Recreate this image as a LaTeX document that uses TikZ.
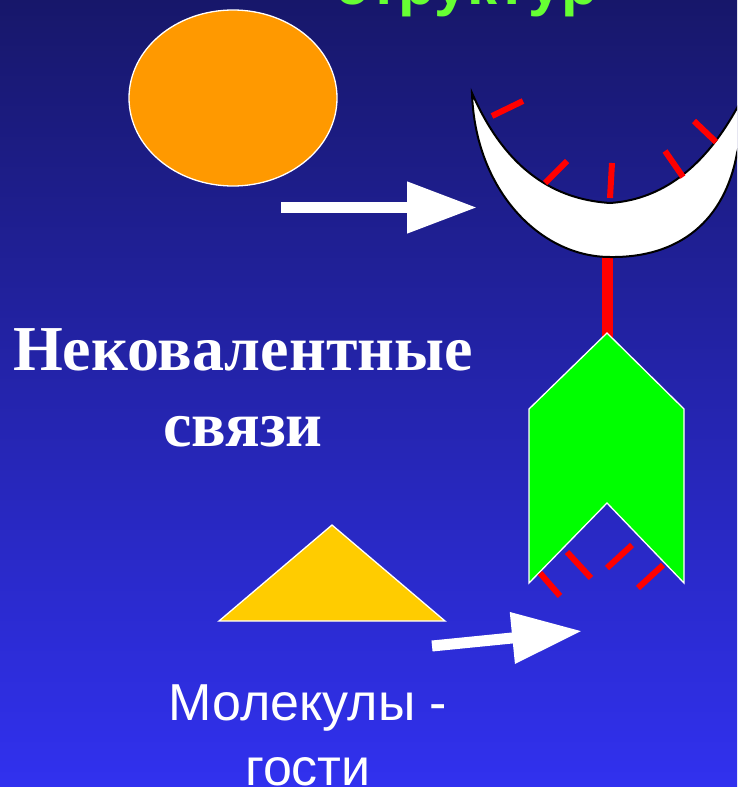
\documentclass[tikz,border=0pt]{standalone}
\usepackage{fontspec}
\setmainfont{Liberation Serif}
\setsansfont{Liberation Sans}
\usetikzlibrary{arrows.meta}

\definecolor{bgtop}{HTML}{17176A}
\definecolor{bgbot}{HTML}{3131EF}
\definecolor{hostgreen}{HTML}{00FF00}
\definecolor{titlegreen}{HTML}{66FF33}
\definecolor{ballorange}{HTML}{FF9900}
\definecolor{guestyellow}{HTML}{FFCC00}

\begin{document}
\begin{tikzpicture}[x=1pt,y=-1pt,
    body/.style={draw=white,line width=1.3pt},
    tick/.style={red,line width=6pt},
    bigarrow/.style={white,line width=11pt,-{Triangle[length=70pt,width=49pt]}}]
  \useasboundingbox (0,0) rectangle (737,787);
  \shade[top color=bgtop,bottom color=bgbot] (0,0) rectangle (737,787);
  \clip (0,0) rectangle (737,787);

  % cut-off heading
  \node[anchor=base,text=titlegreen,font=\sffamily\bfseries\fontsize{60}{62}\selectfont] (title) at (467,5) {структур};

  % orange ball
  \draw[body,fill=ballorange] (233,98) ellipse [x radius=104,y radius=88];

  % crescent host
  \draw[red,line width=11pt] (607,250) -- (607,340);
  \draw[black,line width=2pt,fill=white]
    (472,93) .. controls (475,190) and (540,257) .. (610,257)
    .. controls (680,258) and (725,220) .. (737,153) -- (760,66) -- (737,108)
    .. controls (700,175) and (655,200) .. (610,203)
    .. controls (565,200) and (510,180) .. cycle;
  \draw[tick] (492,116) -- (523,101);
  \draw[tick] (545,183) -- (567,161);
  \draw[tick] (610,198) -- (612,163);
  \draw[tick] (665,151) -- (683,177);
  \draw[tick] (694,121) -- (716,142);

  % green host
  \draw[body,fill=hostgreen] (607,333) -- (684,409) -- (684,583) -- (607,503)
    -- (529,583) -- (529,409) -- cycle;
  \draw[tick] (540,573) -- (560,596);
  \draw[tick] (567,552) -- (591,578);
  \draw[tick] (607,568) -- (632,545);
  \draw[tick] (638,588) -- (663,565);

  % guest triangle
  \draw[body,fill=guestyellow] (332,525) -- (445,621) -- (219,621) -- cycle;

  % arrows
  \coordinate (a1) at (281,207.5);
  \coordinate (b1) at (477,207.5);
  \coordinate (a2) at (432,646);
  \coordinate (b2) at (582,631);
  \draw[bigarrow] (a1) -- (b1);
  \draw[bigarrow] (a2) -- (b2);

  % labels
  \node[text=white,align=center,font=\bfseries\fontsize{64}{76}\selectfont] (bonds) at (243,388) {Нековалентные\\связи};
  \node[text=white,align=center,font=\sffamily\fontsize{52}{65}\selectfont] (guests) at (308,735) {Молекулы -\\гости};
\end{tikzpicture}
\end{document}
